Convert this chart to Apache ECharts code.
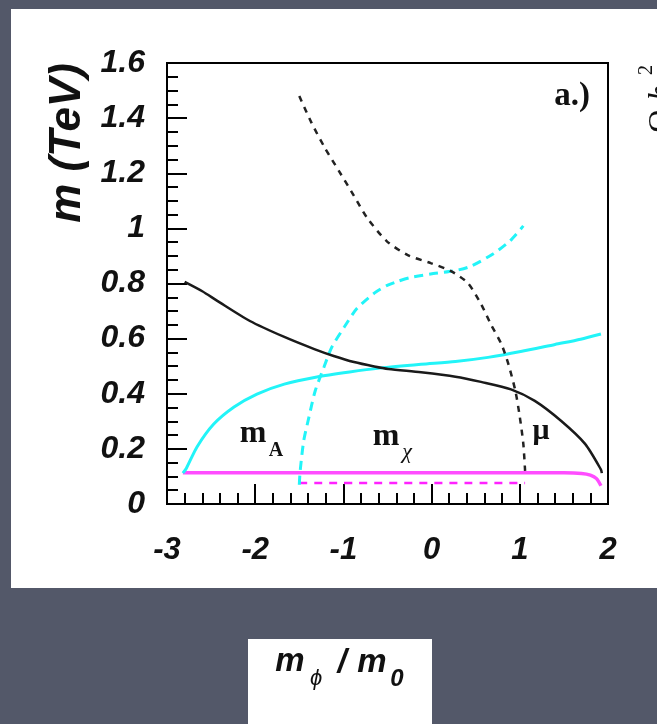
<!DOCTYPE html>
<html>
<head>
<meta charset="utf-8">
<script src="https://cdn.jsdelivr.net/npm/echarts@6/dist/echarts.min.js"></script>
<style>
  html, body { margin: 0; padding: 0; background: #535869; }
  #chart { width: 657px; height: 724px; }
</style>
</head>
<body>
<div id="chart"></div>
<script>
// Axis ticks and their printed labels
const xTickLabels = ['-3', '-2', '-1', '0', '1', '2'];
const yTickLabels = ['0', '0.2', '0.4', '0.6', '0.8', '1', '1.2', '1.4', '1.6'];

// mu (black), solid branch
const muSolidX = [-2.80, -2.60, -2.43, -2.06, -1.67, -1.33, -1.11, -0.88, -0.65, -0.49, -0.12, 0.27, 0.56, 0.90, 1.17, 1.47, 1.74, 1.92, 1.93];
const muSolidY = [0.806, 0.772, 0.737, 0.664, 0.606, 0.562, 0.537, 0.515, 0.499, 0.490, 0.478, 0.462, 0.443, 0.416, 0.374, 0.301, 0.218, 0.125, 0.112];

// mu (black), dashed branch
const muDashX = [-1.50, -1.36, -1.21, -1.05, -0.88, -0.73, -0.51, -0.27, -0.01, 0.22, 0.41, 0.56, 0.67, 0.79, 0.87, 0.95, 1.00, 1.04, 1.06];
const muDashY = [1.480, 1.382, 1.292, 1.208, 1.118, 1.038, 0.954, 0.903, 0.874, 0.845, 0.802, 0.726, 0.653, 0.581, 0.508, 0.410, 0.316, 0.218, 0.120];

// m_A (cyan), solid branch
const mASolidX = [-2.82, -2.78, -2.66, -2.47, -2.24, -1.98, -1.67, -1.30, -0.93, -0.59, -0.12, 0.27, 0.64, 1.01, 1.40, 1.69, 1.92];
const mASolidY = [0.112, 0.130, 0.207, 0.290, 0.352, 0.399, 0.435, 0.461, 0.479, 0.493, 0.507, 0.517, 0.532, 0.553, 0.579, 0.598, 0.617];

// m_A (cyan), dashed branch
const mADashX = [-1.50, -1.49, -1.45, -1.39, -1.32, -1.22, -1.13, -0.99, -0.85, -0.65, -0.51, -0.38, -0.25, 0.02, 0.24, 0.44, 0.70, 0.89, 1.04];
const mADashY = [0.070, 0.120, 0.229, 0.316, 0.410, 0.497, 0.570, 0.642, 0.708, 0.765, 0.792, 0.808, 0.821, 0.836, 0.845, 0.862, 0.908, 0.955, 1.009];

// m_chi (magenta), solid branch
const mChiSolidX = [-2.82, 0.00, 1.50, 1.70, 1.80, 1.87, 1.92];
const mChiSolidY = [0.113, 0.113, 0.113, 0.111, 0.105, 0.092, 0.066];

// m_chi (magenta), dashed branch
const mChiDashX = [-1.50, 1.06];
const mChiDashY = [0.076, 0.076];

const pairs = (xs, ys) => xs.map((x, i) => [x, ys[i]]);

const SANS = '"Liberation Sans", Arial, sans-serif';
const SERIF = '"Liberation Serif", "Times New Roman", serif';
const INK = '#111';

const chart = echarts.init(document.getElementById('chart'), null, { renderer: 'canvas' });

function lineSeries(name, data, color, width, dash, z) {
  return {
    name, type: 'line', data, smooth: 0.25, showSymbol: false, symbol: 'none',
    lineStyle: { color, width, type: dash || 'solid', cap: 'butt' },
    z, animation: false, silent: true
  };
}

function txt(text, x, y, opts) {
  return {
    type: 'text', x, y, z: 100, silent: true,
    rotation: opts.rotation || 0,
    style: {
      text,
      fill: INK,
      font: opts.font,
      align: opts.align || 'center', textAlign: opts.align || 'center',
      verticalAlign: 'middle', textVerticalAlign: 'middle'
    }
  };
}

chart.setOption({
  backgroundColor: '#535869',
  animation: false,
  grid: {
    left: 167, top: 63, right: 49, bottom: 220,
    show: true, borderColor: '#000', borderWidth: 2, backgroundColor: '#fff'
  },
  xAxis: {
    type: 'value', min: -3, max: 2, interval: 1,
    axisLine: { show: true, onZero: false, lineStyle: { color: '#000', width: 2 } },
    axisTick: { show: true, inside: true, length: 20, lineStyle: { color: '#000', width: 2 } },
    minorTick: { show: true, splitNumber: 5, length: 11, lineStyle: { color: '#000', width: 2 } },
    splitLine: { show: false },
    axisLabel: {
      margin: 31, color: INK, fontSize: 31, fontStyle: 'italic', fontWeight: 'bold', fontFamily: SANS,
      formatter: v => xTickLabels[Math.round(v + 3)]
    }
  },
  yAxis: {
    type: 'value', min: 0, max: 1.6, interval: 0.2,
    axisLine: { show: true, onZero: false, lineStyle: { color: '#000', width: 2 } },
    axisTick: { show: true, inside: true, length: 20, lineStyle: { color: '#000', width: 2 } },
    minorTick: { show: true, splitNumber: 4, length: 11, lineStyle: { color: '#000', width: 2 } },
    splitLine: { show: false },
    axisLabel: {
      margin: 22, color: INK, fontSize: 32, fontStyle: 'italic', fontWeight: 'bold', fontFamily: SANS,
      formatter: v => yTickLabels[Math.round(v / 0.2)]
    }
  },
  series: [
    lineSeries('m_chi', pairs(mChiSolidX, mChiSolidY), '#ff4dff', 3.5, 'solid', 2),
    lineSeries('m_chi dashed', pairs(mChiDashX, mChiDashY), '#ff22ff', 2.5, [8, 7], 2),
    lineSeries('m_A', pairs(mASolidX, mASolidY), '#22f4f8', 3, 'solid', 3),
    lineSeries('m_A dashed', pairs(mADashX, mADashY), '#22f4f8', 3, [9, 6], 3),
    lineSeries('mu', pairs(muSolidX, muSolidY), '#1a1a1a', 2.5, 'solid', 4),
    lineSeries('mu dashed', pairs(muDashX, muDashY), '#222', 2.5, [6, 6], 4)
  ],
  graphic: {
    elements: [
      // white page behind the plot
      { type: 'rect', z: -10, silent: true, shape: { x: 11, y: 9, width: 646, height: 579 }, style: { fill: '#fff' } },
      // box holding the x-axis title
      { type: 'rect', z: -10, silent: true, shape: { x: 248, y: 639, width: 184, height: 85 }, style: { fill: '#fff' } },

      // y-axis title
      txt('m (TeV)', 68, 143, { rotation: Math.PI / 2, font: 'italic bold 44px ' + SANS }),

      // x-axis title: m_phi / m_0
      txt('m', 290, 662, { font: 'italic bold 33px ' + SANS }),
      txt('\u03d5', 316, 679, { font: 'italic 22px ' + SANS }),
      txt('/', 342, 663, { font: 'italic bold 33px ' + SANS }),
      txt('m', 372, 663, { font: 'italic bold 33px ' + SANS }),
      txt('0', 397, 679, { font: 'italic bold 24px ' + SANS }),

      // panel tag
      txt('a.)', 590, 96, { align: 'right', font: 'bold 33px ' + SERIF }),

      // curve labels
      txt('m', 253, 434, { font: 'bold 32px ' + SERIF }),
      txt('A', 276, 451, { font: 'bold 20px ' + SERIF }),
      txt('m', 386, 437, { font: 'bold 32px ' + SERIF }),
      txt('\u03c7', 407, 452, { font: 'italic 22px ' + SERIF }),
      txt('\u03bc', 541, 431, { font: 'bold 30px ' + SERIF }),

      // title of the neighbouring panel, cut by the page edge
      txt('\u03a9', 662, 121, { rotation: Math.PI / 2, font: '32px ' + SERIF }),
      txt('h', 662, 93, { rotation: Math.PI / 2, font: 'italic 32px ' + SERIF }),
      txt('2', 647, 70, { rotation: Math.PI / 2, font: '20px ' + SERIF })
    ]
  }
});
</script>
</body>
</html>
